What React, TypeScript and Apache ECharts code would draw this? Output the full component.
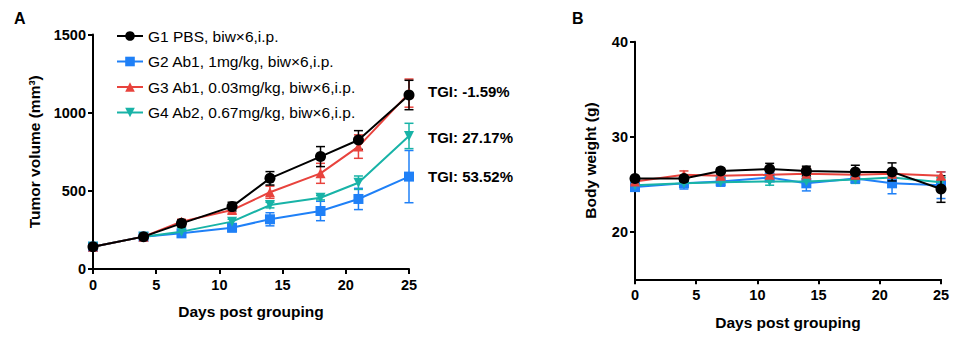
import React, { useEffect, useRef } from "react";
import * as echarts from "echarts";

const days = [0, 4, 7, 11, 14, 18, 21, 25];
const groupNames = [
  "G1 PBS, biw×6,i.p.",
  "G2 Ab1, 1mg/kg, biw×6,i.p.",
  "G3 Ab1, 0.03mg/kg, biw×6,i.p.",
  "G4 Ab2, 0.67mg/kg, biw×6,i.p.",
];
const tgiLabels = ["TGI: -1.59%", "TGI: 27.17%", "TGI: 53.52%"];

const tumorG1 = [143, 207, 292, 399, 580, 719, 825, 1113];
const tumorG1Sem = [10, 12, 20, 28, 43, 64, 60, 94];
const tumorG2 = [143, 207, 228, 264, 318, 371, 448, 591];
const tumorG2Sem = [10, 12, 12, 25, 42, 62, 68, 167];
const tumorG3 = [143, 207, 303, 377, 491, 612, 783, 1125];
const tumorG3Sem = [10, 12, 15, 20, 39, 64, 75, 90];
const tumorG4 = [143, 207, 239, 303, 409, 456, 552, 851];
const tumorG4Sem = [10, 12, 10, 15, 18, 14, 43, 81];

const weightG1 = [25.6, 25.6, 26.4, 26.6, 26.4, 26.3, 26.3, 24.5];
const weightG1Sem = [0.2, 0.3, 0.3, 0.6, 0.5, 0.7, 0.95, 1.4];
const weightG2 = [24.7, 25.1, 25.3, 25.7, 25.1, 25.6, 25.1, 24.9];
const weightG2Sem = [0.3, 0.6, 0.5, 0.3, 0.8, 0.5, 1.1, 1.4];
const weightG3 = [25.3, 26.0, 25.9, 26.0, 26.1, 26.0, 26.1, 25.9];
const weightG3Sem = [0.3, 0.4, 0.3, 0.3, 0.6, 0.3, 0.3, 0.4];
const weightG4 = [24.9, 25.1, 25.2, 25.3, 25.3, 25.5, 25.7, 25.2];
const weightG4Sem = [0.3, 0.3, 0.3, 0.4, 0.3, 0.4, 0.3, 0.5];

const colors = ["#000000", "#1f80f7", "#e8433d", "#18b3a7"];
const symbols = ["circle", "rect", "triangle", "triangle"];
const symbolRotates = [0, 0, 0, 180];
const symbolSizes = [11, 10, 10, 10];

const FONT = "'Liberation Sans', Arial, sans-serif";

export default function App() {
  const ref = useRef<HTMLDivElement>(null);
  useEffect(() => {
    if (!ref.current) return;
    const chart = echarts.init(ref.current, null, { renderer: "svg" });

    const tumorMeans = [tumorG1, tumorG2, tumorG3, tumorG4];
    const tumorSems = [tumorG1Sem, tumorG2Sem, tumorG3Sem, tumorG4Sem];
    const weightMeans = [weightG1, weightG2, weightG3, weightG4];
    const weightSems = [weightG1Sem, weightG2Sem, weightG3Sem, weightG4Sem];

    const order = [1, 3, 2, 0];

    const errSeries = (idx: number, means: number[], sems: number[], axisIndex: number) => ({
      type: "custom",
      xAxisIndex: axisIndex,
      yAxisIndex: axisIndex,
      silent: true,
      z: 2 + order.indexOf(idx),
      data: days.map((d, i) => [d, means[i] - sems[i], means[i] + sems[i]]),
      renderItem: (params: any, api: any) => {
        const lo = api.coord([api.value(0), api.value(1)]);
        const hi = api.coord([api.value(0), api.value(2)]);
        const w = 4.5;
        const style = { stroke: colors[idx], lineWidth: 1.5 };
        return {
          type: "group",
          children: [
            { type: "line", shape: { x1: lo[0], y1: lo[1], x2: hi[0], y2: hi[1] }, style },
            { type: "line", shape: { x1: lo[0] - w, y1: lo[1], x2: lo[0] + w, y2: lo[1] }, style },
            { type: "line", shape: { x1: hi[0] - w, y1: hi[1], x2: hi[0] + w, y2: hi[1] }, style },
          ],
        };
      },
    });

    const lineSeries = (idx: number, means: number[], axisIndex: number) => ({
      type: "line",
      name: groupNames[idx],
      xAxisIndex: axisIndex,
      yAxisIndex: axisIndex,
      z: 3 + order.indexOf(idx),
      data: days.map((d, i) => [d, means[i]]),
      symbol: symbols[idx],
      symbolRotate: symbolRotates[idx],
      symbolSize: symbolSizes[idx],
      showAllSymbol: true,
      lineStyle: { color: colors[idx], width: 2 },
      itemStyle: { color: colors[idx] },
      emphasis: { disabled: true },
    });

    const series: any[] = [];
    order.forEach((idx) => {
      series.push(errSeries(idx, tumorMeans[idx], tumorSems[idx], 0));
      series.push(lineSeries(idx, tumorMeans[idx], 0));
      series.push(errSeries(idx, weightMeans[idx], weightSems[idx], 1));
      series.push(lineSeries(idx, weightMeans[idx], 1));
    });

    const axisCommon = {
      axisLine: { show: true, lineStyle: { color: "#000", width: 2 } },
      axisTick: { show: true, length: 5, lineStyle: { color: "#000", width: 2 } },
      splitLine: { show: false },
      axisLabel: {
        color: "#000",
        fontSize: 14.5,
        fontWeight: "bold",
        fontFamily: FONT,
        formatter: (v: number) => String(v),
      },
      nameTextStyle: { color: "#000", fontSize: 15.5, fontWeight: "bold", fontFamily: FONT },
      nameLocation: "middle",
    };

    const tgiY = [91, 137, 176];

    chart.setOption({
      animation: false,
      backgroundColor: "#fff",
      textStyle: { fontFamily: FONT },
      grid: [
        { left: 93, top: 34.5, width: 316, height: 234.5 },
        { left: 635, top: 41.7, width: 306, height: 237.6 },
      ],
      xAxis: [
        {
          ...axisCommon,
          type: "value",
          gridIndex: 0,
          min: 0,
          max: 25,
          interval: 5,
          name: "Days post grouping",
          nameGap: 34,
          axisLabel: { ...axisCommon.axisLabel, margin: 8 },
        },
        {
          ...axisCommon,
          type: "value",
          gridIndex: 1,
          min: 0,
          max: 25,
          interval: 5,
          name: "Days post grouping",
          nameGap: 35,
          axisLabel: { ...axisCommon.axisLabel, margin: 8 },
        },
      ],
      yAxis: [
        {
          ...axisCommon,
          type: "value",
          gridIndex: 0,
          min: 0,
          max: 1500,
          interval: 500,
          name: "Tumor volume (mm³)",
          nameGap: 51,
          axisLabel: { ...axisCommon.axisLabel, margin: 7 },
        },
        {
          ...axisCommon,
          type: "value",
          gridIndex: 1,
          min: 15,
          max: 40,
          interval: 5,
          name: "Body weight (g)",
          nameGap: 37,
          axisTick: { ...axisCommon.axisTick, customValues: [20, 30, 40] },
          axisLabel: { ...axisCommon.axisLabel, margin: 7, customValues: [20, 30, 40] },
        },
      ],
      legend: {
        left: 111,
        top: 23,
        orient: "vertical",
        itemWidth: 26,
        itemHeight: 12,
        itemGap: 9.5,
        selectedMode: false,
        data: groupNames,
        textStyle: { color: "#000", fontSize: 15.5, fontFamily: FONT },
      },
      graphic: [
        {
          type: "text",
          left: 14,
          top: 10,
          style: { text: "A", fontSize: 16, fontWeight: "bold", fontFamily: FONT, fill: "#000" },
        },
        {
          type: "text",
          left: 572,
          top: 10,
          style: { text: "B", fontSize: 16, fontWeight: "bold", fontFamily: FONT, fill: "#000" },
        },
        ...tgiLabels.map((t, i) => ({
          type: "text",
          x: 428,
          y: tgiY[i],
          style: {
            text: t,
            fontSize: 15,
            fontWeight: "bold",
            fontFamily: FONT,
            fill: "#000",
            verticalAlign: "middle",
          },
        })),
      ],
      series,
    });
    return () => chart.dispose();
  }, []);
  return <div ref={ref} style={{ width: 956, height: 337, position: "absolute", left: 0, top: 0 }} />;
}
